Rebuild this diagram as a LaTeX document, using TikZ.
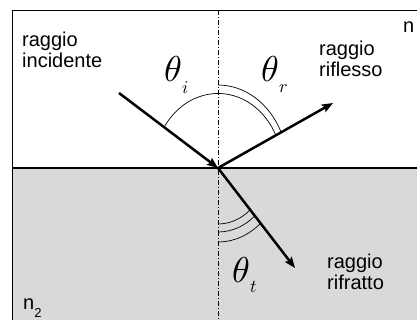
\documentclass[tikz,border=0pt]{standalone}
\usepackage{graphicx}
\usepackage{fontspec}
\setmainfont{Liberation Sans}
\usetikzlibrary{arrows.meta}
\definecolor{glass}{RGB}{217,217,217}
\begin{document}
\begin{tikzpicture}[x=1pt,y=-1pt,
  ray/.style={line width=2.5pt, -{Stealth[length=11pt,width=8.5pt,inset=2pt]}},
  lbl/.style={anchor=base west, inner sep=0pt, font=\fontsize{20}{22}\selectfont},
  thlbl/.style={anchor=base west, inner sep=0pt},
  anglearc/.style={line width=0.7pt},
  normalline/.style={line width=0.7pt, dash pattern=on 5pt off 2pt on 1pt off 2pt}]
\useasboundingbox (0,0) rectangle (417,320);
\clip (0,0) rectangle (417,320);
\fill[glass] (12.5,168) rectangle (430,330);
\draw[line width=1pt] (430,10.5) -- (12.5,10.5) -- (12.5,330);
\draw[line width=1.3pt] (12.5,168) -- (430,168);
\coordinate (O) at (218,168);
\coordinate (ntop) at (218,10.5);
\coordinate (nbot) at (218,330);
\draw[normalline] (ntop) -- (nbot);
% angle arcs
\draw[anglearc] (O) ++(-146:64.4 and 74.5) arc[start angle=-146, end angle=-26, x radius=64.4, y radius=74.5];
\draw[anglearc] (O) ++(-90:70 and 83) arc[start angle=-90, end angle=-25.5, x radius=70, y radius=83];
\draw[anglearc] (O) ++(90:48.4 and 56) arc[start angle=90, end angle=48, x radius=48.4, y radius=56];
\draw[anglearc] (O) ++(90:55.4 and 64) arc[start angle=90, end angle=48, x radius=55.4, y radius=64];
\draw[anglearc] (O) ++(90:64 and 74) arc[start angle=90, end angle=48, x radius=64, y radius=74];
% rays
\coordinate (inc) at (119,93);
\coordinate (refl) at (333,103);
\coordinate (refr) at (295,268);
\draw[ray] (inc) -- (O);
\draw[ray] (O) -- (refl);
\draw[ray] (O) -- (refr);
% labels
\node[lbl] (r1) at (22,46.5) {raggio};
\node[lbl] (r1b) at (22,68) {incidente};
\node[lbl] (r2) at (319,55.5) {raggio};
\node[lbl] (r2b) at (319,77) {riflesso};
\node[lbl] (r3) at (327,268.5) {raggio};
\node[lbl] (r3b) at (327,289) {rifratto};
\node[lbl] (n1) at (403,33) {n};
\node[lbl] (n2) at (23,309) {n\raisebox{-8pt}{\fontsize{13}{14}\selectfont 2}};
\node[thlbl] (thi) at (164,82) {\scalebox{3.6}{$\theta$}\raisebox{-12pt}{\scalebox{1.8}{$i$}}};
\node[thlbl] (thr) at (261,82) {\scalebox{3.6}{$\theta$}\raisebox{-11pt}{\scalebox{1.8}{$r$}}};
\node[thlbl] (tht) at (232,282) {\scalebox{3.6}{$\theta$}\raisebox{-10pt}{\scalebox{1.8}{$t$}}};
\end{tikzpicture}
\end{document}
